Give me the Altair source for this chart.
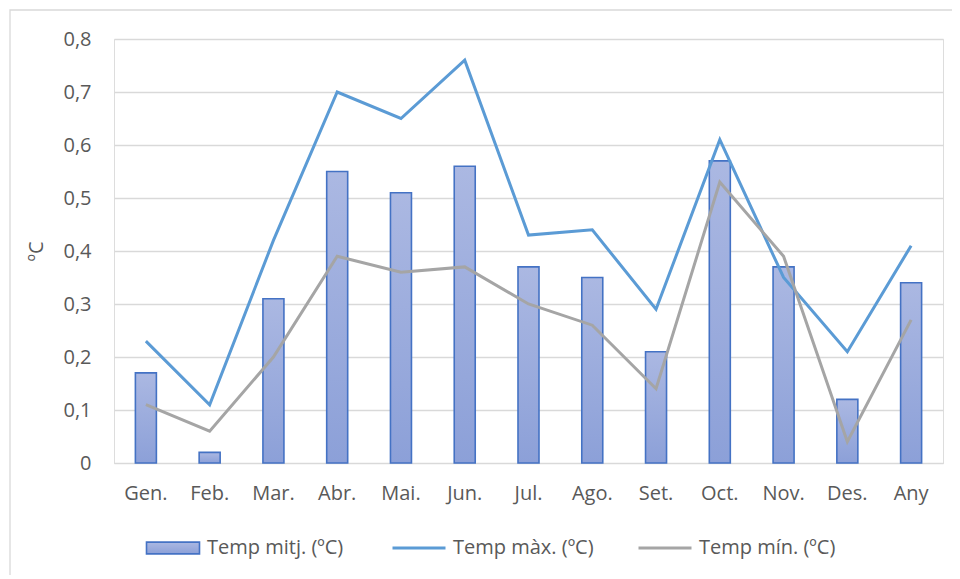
import altair as alt
import pandas as pd

months = ["Gen.", "Feb.", "Mar.", "Abr.", "Mai.", "Jun.", "Jul.", "Ago.", "Set.", "Oct.", "Nov.", "Des.", "Any"]
temp_mitj = [0.17, 0.02, 0.31, 0.55, 0.51, 0.56, 0.37, 0.35, 0.21, 0.57, 0.37, 0.12, 0.34]
temp_max = [0.23, 0.11, 0.42, 0.70, 0.65, 0.76, 0.43, 0.44, 0.29, 0.61, 0.35, 0.21, 0.41]
temp_min = [0.11, 0.06, 0.20, 0.39, 0.36, 0.37, 0.30, 0.26, 0.14, 0.53, 0.39, 0.04, 0.27]

S_MITJ = "Temp mitj. (ºC)"
S_MAX = "Temp màx. (ºC)"
S_MIN = "Temp mín. (ºC)"
series_names = [S_MITJ, S_MAX, S_MIN]
series_colors = ["#4472c4", "#5b9bd5", "#a5a5a5"]

rows = []
for name, vals in zip(series_names, [temp_mitj, temp_max, temp_min]):
    for m, v in zip(months, vals):
        rows.append({"mes": m, "valor": v, "serie": name})
df = pd.DataFrame(rows)

W, H = 829, 424
FONT = "Open Sans"
TXT = "#595959"

x_enc = alt.X("mes:N", sort=months, scale=alt.Scale(paddingInner=0, paddingOuter=0),
              axis=alt.Axis(title=None, labelAngle=0, labelPadding=20, labelFontSize=20,
                            labelColor=TXT, labelFont=FONT, domain=True, domainColor="#d9d9d9",
                            ticks=False, grid=False))
y_enc = alt.Y("valor:Q", scale=alt.Scale(domain=[0, 0.8], nice=False),
              axis=alt.Axis(title="ºC", values=[0, 0.1, 0.2, 0.3, 0.4, 0.5, 0.6, 0.7, 0.8],
                            labelExpr="datum.value == 0 ? '0' : replace(format(datum.value, '.1f'), '.', ',')",
                            labelFontSize=20, labelColor=TXT, labelFont=FONT, labelPadding=23,
                            domain=False, ticks=False, grid=True, gridColor="#d9d9d9", gridWidth=1.3,
                            titleFont=FONT, titleFontSize=20, titleFontWeight="normal", titleColor=TXT,
                            titleX=-78, titleY=H / 2, titleAlign="center", titleBaseline="middle",
                            titleAngle=270))

is_bar = f"datum.value == '{S_MITJ}'"
stroke_enc = alt.Stroke(
    "serie:N",
    scale=alt.Scale(domain=series_names, range=series_colors),
    legend=alt.Legend(
        title=None, orient="none", legendX=49, legendY=499, direction="horizontal",
        columns=3, gridAlign="all", columnPadding=38, symbolSize=2809, labelOffset=24,
        labelFontSize=20, labelColor=TXT, labelFont=FONT, padding=0,
        symbolType=alt.ExprRef(expr=f"{is_bar} ? 'M-1,-0.22H1V0.22H-1Z' : 'stroke'"),
        symbolFillColor=alt.ExprRef(expr=f"{is_bar} ? '#9cadde' : 'transparent'"),
        symbolStrokeWidth=alt.ExprRef(expr=f"{is_bar} ? 1.6 : 3"),
    ),
)

grad = alt.Gradient(gradient="linear", x1=0, y1=0, x2=0, y2=1,
                    stops=[alt.GradientStop(offset=0, color="#abb8e2"),
                           alt.GradientStop(offset=1, color="#8ca0d8")])

base = alt.Chart(df)
bars = base.transform_filter(alt.datum.serie == S_MITJ).mark_bar(
    size=21, fill=grad, strokeWidth=1.6
).encode(x=x_enc, y=y_enc, stroke=stroke_enc)

lines = base.transform_filter(alt.datum.serie != S_MITJ).mark_line(
    strokeWidth=3, strokeJoin="miter"
).encode(x=x_enc, y=y_enc, stroke=stroke_enc, detail="serie:N")

frame = alt.Chart(pd.DataFrame({"a": [0]})).mark_rect(
    fill="transparent", stroke="#d9d9d9", strokeWidth=1.3
).encode(x=alt.value(-104), x2=alt.value(W + 40), y=alt.value(-29), y2=alt.value(H + 200))

chart = alt.layer(frame, bars, lines).properties(
    width=W, height=H,
    autosize=alt.AutoSizeParams(type="none"),
    padding={"left": 106, "top": 31, "right": 9, "bottom": 112},
).configure_view(stroke=None).configure(background="white")

chart.save("out.html", embed_options={"renderer": "svg", "actions": False})
